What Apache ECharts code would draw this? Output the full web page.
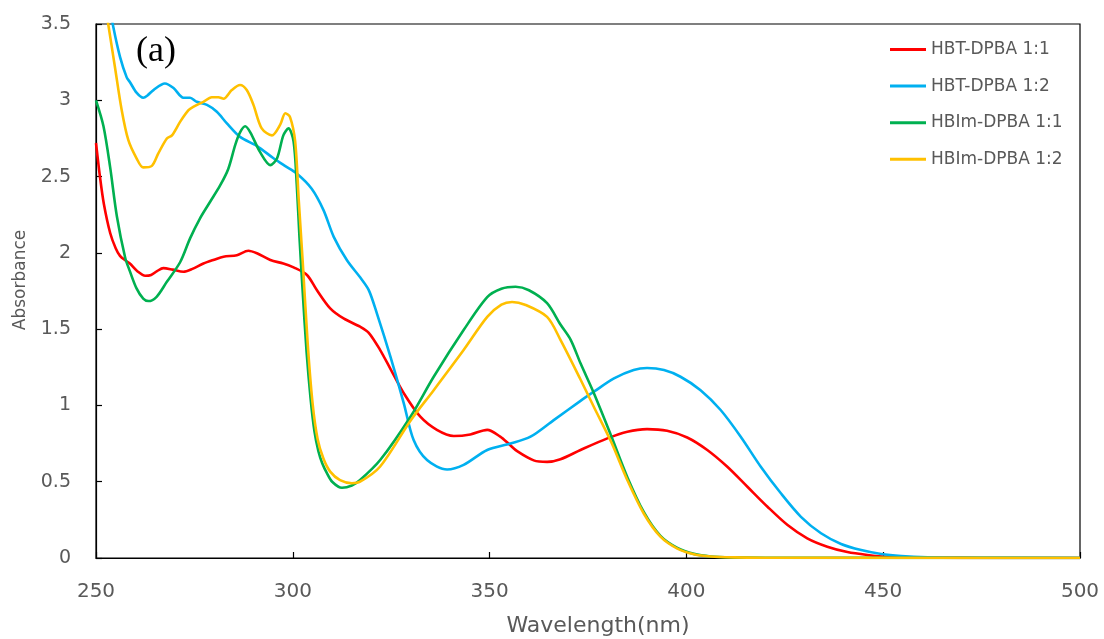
<!DOCTYPE html>
<html>
<head>
<meta charset="utf-8">
<script src="https://cdn.jsdelivr.net/npm/echarts@6/dist/echarts.min.js"></script>
<style>
  html, body { margin: 0; padding: 0; background: #fff; }
  #chart { width: 1104px; height: 639px; }
</style>
</head>
<body>
<div id="chart"></div>
<script>
// UV-Vis absorption spectra: wavelength (nm) and absorbance per sample
const seriesNames = ['HBT-DPBA 1:1', 'HBT-DPBA 1:2', 'HBIm-DPBA 1:1', 'HBIm-DPBA 1:2'];

const wlHbt11 = [250, 251, 252, 253.6, 255, 256.1, 257.5, 258.6, 260.5, 262.5, 264, 265.5, 267.1, 269.5, 272.2, 274.5, 277.3, 280, 282.4, 285.8, 288.7, 290.9, 294.3, 297.6, 300.2, 303.6, 306.1, 309.5, 312.9, 317.1, 319.3, 322.2, 324.8, 328.2, 332.4, 336.6, 340.9, 345.1, 349.4, 352.7, 355, 357, 361.2, 364.6, 368, 373.1, 379.9, 385, 390, 395.1, 400.2, 405.3, 410.4, 415.5, 420.6, 425.7, 430.7, 435.8, 440.9, 446, 451, 460, 470, 480, 500];
const absHbt11 = [2.72, 2.50, 2.32, 2.13, 2.03, 1.98, 1.95, 1.93, 1.88, 1.85, 1.855, 1.88, 1.90, 1.89, 1.876, 1.895, 1.93, 1.955, 1.975, 1.985, 2.014, 1.997, 1.953, 1.93, 1.905, 1.855, 1.756, 1.636, 1.57, 1.516, 1.476, 1.363, 1.24, 1.08, 0.926, 0.84, 0.80, 0.81, 0.84, 0.795, 0.745, 0.70, 0.64, 0.63, 0.647, 0.708, 0.784, 0.828, 0.845, 0.834, 0.79, 0.708, 0.598, 0.467, 0.336, 0.216, 0.129, 0.074, 0.039, 0.02, 0.008, 0.002, 0.001, 0, 0];

const wlHbt12 = [253.5, 254.4, 256.1, 257.8, 258.6, 260.3, 262, 263, 264.6, 267.5, 269.7, 272.2, 273.9, 275.6, 278.2, 280.7, 283.2, 286.6, 290.9, 295.1, 298, 301, 304.8, 307.8, 310.4, 313.8, 317.1, 319.3, 321.4, 324.8, 328.2, 330.7, 334.1, 339.2, 343.4, 349.4, 355.3, 360.4, 366.3, 373.1, 376.5, 381.6, 386.6, 390, 394.3, 398.5, 403.6, 408.7, 413.8, 418.9, 424, 429.1, 434.2, 439.3, 444.4, 449.5, 454.6, 461.3, 470, 500];
const absHbt12 = [3.62, 3.48, 3.285, 3.15, 3.12, 3.05, 3.017, 3.03, 3.067, 3.11, 3.08, 3.017, 3.017, 2.99, 2.97, 2.925, 2.85, 2.76, 2.70, 2.62, 2.57, 2.52, 2.42, 2.28, 2.105, 1.95, 1.84, 1.756, 1.60, 1.32, 1.014, 0.773, 0.642, 0.58, 0.61, 0.708, 0.75, 0.795, 0.904, 1.03, 1.09, 1.177, 1.232, 1.245, 1.232, 1.188, 1.10, 0.97, 0.795, 0.598, 0.424, 0.27, 0.162, 0.092, 0.052, 0.026, 0.013, 0.005, 0.002, 0];

const wlHbim11 = [250, 251.9, 253.6, 255.3, 257.4, 258.6, 260.3, 262, 263.3, 265.4, 268, 271.4, 273.9, 276.4, 279, 281.5, 283.6, 285.4, 286.6, 287.9, 289.2, 291.7, 294.3, 296, 297.6, 298.9, 300.2, 301, 301.7, 302.5, 303.5, 304.5, 305.5, 306.5, 307.5, 308.7, 310, 312.5, 315, 317.1, 322.2, 329.9, 335.8, 343.4, 349.4, 353, 356.6, 360, 364.6, 368, 370.6, 373.1, 376.5, 380.9, 385, 389.2, 393.4, 397.7, 401.9, 406.2, 412, 420, 500];
const absHbim11 = [3.0, 2.83, 2.56, 2.24, 1.97, 1.88, 1.767, 1.70, 1.684, 1.712, 1.81, 1.94, 2.095, 2.225, 2.335, 2.44, 2.55, 2.71, 2.79, 2.83, 2.79, 2.66, 2.575, 2.62, 2.77, 2.816, 2.73, 2.45, 2.1, 1.75, 1.35, 1.05, 0.83, 0.70, 0.62, 0.555, 0.5, 0.46, 0.475, 0.511, 0.642, 0.926, 1.188, 1.494, 1.71, 1.765, 1.778, 1.755, 1.67, 1.53, 1.43, 1.276, 1.08, 0.80, 0.53, 0.30, 0.145, 0.066, 0.027, 0.01, 0.004, 0.002, 0];

const wlHbim12 = [252.2, 253.1, 254.8, 256.5, 258.2, 260.3, 262, 264.2, 265.8, 268, 269.3, 271.4, 273.5, 274.7, 277.3, 279.4, 281.1, 282.4, 284.5, 286.6, 288.3, 290, 292.1, 294.7, 296.8, 298.1, 299.3, 300.6, 301.5, 302.5, 303.8, 305, 306.3, 307.8, 309.5, 312, 315, 317.1, 322.2, 329.9, 335.8, 343.4, 349.4, 353, 355.7, 359, 364.6, 368, 373.1, 376.5, 380.9, 385, 389.2, 393.4, 397.7, 401.9, 406.2, 412, 420, 500];
const absHbim12 = [3.65, 3.5, 3.22, 2.94, 2.74, 2.62, 2.56, 2.57, 2.65, 2.75, 2.77, 2.86, 2.935, 2.957, 2.99, 3.02, 3.02, 3.01, 3.067, 3.10, 3.067, 2.97, 2.816, 2.77, 2.84, 2.915, 2.89, 2.73, 2.35, 1.95, 1.4, 1.02, 0.78, 0.65, 0.566, 0.51, 0.49, 0.50, 0.60, 0.90, 1.10, 1.363, 1.58, 1.66, 1.678, 1.66, 1.58, 1.43, 1.17, 0.99, 0.76, 0.51, 0.29, 0.14, 0.062, 0.025, 0.01, 0.004, 0.002, 0];

const xTicks = [250, 300, 350, 400, 450, 500];
const yTicks = [0, 0.5, 1, 1.5, 2, 2.5, 3, 3.5];

const lineColors = ['#FF0000', '#00B0F0', '#00B050', '#FFC000'];

function pairs(xs, ys) {
  return xs.map((x, i) => [x, ys[i]]);
}

const seriesData = [
  pairs(wlHbt11, absHbt11),
  pairs(wlHbt12, absHbt12),
  pairs(wlHbim11, absHbim11),
  pairs(wlHbim12, absHbim12)
];

const labelFont = '"DejaVu Sans", "Liberation Sans", sans-serif';
const textGrey = '#595959';
const chart = echarts.init(document.getElementById('chart'), null, { renderer: 'canvas' });

chart.setOption({
  animation: false,
  backgroundColor: '#ffffff',
  grid: {
    left: 96, right: 24, top: 24, bottom: 81,
    show: true, borderColor: '#000000', borderWidth: 1.2
  },
  legend: {
    orient: 'vertical',
    left: 885, top: 36,
    icon: 'rect',
    itemWidth: 36, itemHeight: 3,
    itemGap: 19.6,
    textStyle: { color: textGrey, fontSize: 17, fontFamily: labelFont, lineHeight: 17 },
    data: seriesNames
  },
  xAxis: {
    type: 'value',
    min: xTicks[0], max: xTicks[xTicks.length - 1], interval: 50,
    axisLine: { show: true, lineStyle: { color: '#000', width: 1.2 } },
    axisTick: { show: true, inside: true, length: 6, lineStyle: { color: '#000', width: 1.2 } },
    axisLabel: { color: textGrey, fontSize: 20, fontFamily: labelFont, margin: 24 },
    splitLine: { show: false }
  },
  yAxis: {
    type: 'value',
    min: yTicks[0], max: yTicks[yTicks.length - 1], interval: 0.5,
    axisLine: { show: true, lineStyle: { color: '#000', width: 1.2 } },
    axisTick: { show: true, inside: true, length: 6, lineStyle: { color: '#000', width: 1.2 } },
    axisLabel: { color: textGrey, fontSize: 19, fontFamily: labelFont, margin: 25 },
    splitLine: { show: false }
  },
  graphic: [
    {
      type: 'text',
      x: 156, y: 52,
      style: {
        text: '(a)', font: '36px "Liberation Serif", "DejaVu Serif", serif',
        fill: '#000', align: 'center', verticalAlign: 'middle'
      }
    },
    {
      type: 'text',
      x: 598, y: 626,
      style: {
        text: 'Wavelength(nm)', font: '22px ' + labelFont,
        fill: textGrey, align: 'center', verticalAlign: 'middle'
      }
    },
    {
      type: 'text',
      x: 21, y: 280,
      rotation: Math.PI / 2,
      style: {
        text: 'Absorbance', font: '17px ' + labelFont,
        fill: textGrey, align: 'center', verticalAlign: 'middle'
      }
    }
  ],
  series: seriesNames.map((name, i) => ({
    name: name,
    type: 'line',
    data: seriesData[i],
    showSymbol: false,
    symbol: 'none',
    smooth: 0.3,
    clip: true,
    lineStyle: { color: lineColors[i], width: 2.6 },
    itemStyle: { color: lineColors[i] }
  }))
});
</script>
</body>
</html>
